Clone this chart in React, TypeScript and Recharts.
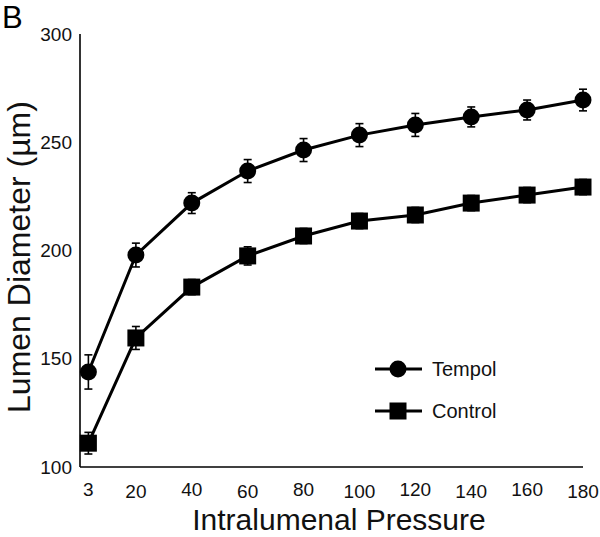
import React from 'react';
import { LineChart, Line, XAxis, YAxis, ErrorBar, Legend, Label } from 'recharts';

// intraluminal pressure steps (mmHg)
const pressures = [3, 20, 40, 60, 80, 100, 120, 140, 160, 180];

// lumen diameter (µm), mean and error
const tempol = [143.9, 197.9, 221.9, 236.7, 246.4, 253.3, 258.0, 261.7, 264.9, 269.5];
const tempolErr = [7.9, 5.5, 4.8, 5.3, 5.3, 5.3, 5.3, 4.6, 4.6, 5.0];
const control = [111.0, 159.6, 183.1, 197.5, 206.7, 213.6, 216.4, 221.9, 225.6, 229.3];
const controlErr = [5.0, 5.3, 3.5, 4.2, 3.5, 3.5, 3.5, 3.5, 3.5, 3.5];

const yTicks = [100, 150, 200, 250, 300];

const FONT = '"Liberation Sans", Arial, Helvetica, sans-serif';

const chartData = pressures.map((p, i) => ({
  pressure: p,
  tempol: tempol[i],
  tempolErr: tempolErr[i],
  control: control[i],
  controlErr: controlErr[i],
}));

// x tick labels are slightly staggered in the original figure
function XTick(props: any) {
  const { x, y, payload, index } = props;
  return (
    <text x={x} y={y} dy={index % 2 ? 23 : 21} textAnchor="middle" fill="#111" fontSize={19} fontFamily={FONT}>
      {payload.value}
    </text>
  );
}

function SquareDot(props: any) {
  const { cx, cy, index } = props;
  if (cx == null || cy == null) return null;
  return <rect key={`sq-${index}`} x={cx - 8.5} y={cy - 8.5} width={17} height={17} fill="#000" />;
}

function LegendBox() {
  return (
    <svg width={140} height={75} style={{ fontFamily: FONT }}>
      <line x1={5} x2={52} y1={19} y2={19} stroke="#000" strokeWidth={3} />
      <circle cx={28} cy={19} r={8.5} fill="#000" />
      <text x={62} y={26} fontSize={20} fill="#111">Tempol</text>
      <line x1={5} x2={52} y1={61} y2={61} stroke="#000" strokeWidth={3} />
      <rect x={19.5} y={52.5} width={17} height={17} fill="#000" />
      <text x={62} y={68} fontSize={20} fill="#111">Control</text>
    </svg>
  );
}

export default function App() {
  return (
    <div style={{ position: 'absolute', left: 0, top: 0, width: 600, height: 537, background: '#fff' }}>
      <svg width={40} height={40} style={{ position: 'absolute', left: 0, top: 0 }}>
        <text x={2} y={28} fontSize={31} fontFamily={FONT} fill="#000">B</text>
      </svg>
      <LineChart
        width={600}
        height={537}
        data={chartData}
        margin={{ top: 34, right: 17, bottom: 0, left: 0 }}
        style={{ fontFamily: FONT }}
      >
        <XAxis
          dataKey="pressure"
          type="number"
          domain={[0, 180]}
          ticks={pressures}
          tickLine={false}
          axisLine={{ stroke: '#000', strokeWidth: 1.6 }}
          tick={<XTick />}
          height={70}
          interval={0}
        >
          <Label
            content={() => (
              <text x={339} y={530} textAnchor="middle" fontSize={30} fill="#111" fontFamily={FONT}>
                Intralumenal Pressure
              </text>
            )}
          />
        </XAxis>
        <YAxis
          type="number"
          domain={[100, 300]}
          ticks={yTicks}
          tickLine={false}
          axisLine={{ stroke: '#000', strokeWidth: 1.6 }}
          tick={{ fill: '#111', fontSize: 19, fontFamily: FONT }}
          width={80}
          interval={0}
        >
          <Label
            content={() => (
              <text
                x={30}
                y={257}
                transform="rotate(-90, 30, 257)"
                textAnchor="middle"
                fontSize={32}
                fill="#111"
                fontFamily={FONT}
              >
                Lumen Diameter (µm)
              </text>
            )}
          />
        </YAxis>
        <Legend
          layout="horizontal"
          verticalAlign="middle"
          align="center"
          content={() => <LegendBox />}
          wrapperStyle={{ left: 370, top: 350, width: 140, height: 75 }}
        />
        <Line
          dataKey="tempol"
          name="Tempol"
          stroke="#000"
          strokeWidth={3}
          dot={{ r: 8.5, fill: '#000', stroke: '#000', strokeWidth: 0 }}
          activeDot={false}
          isAnimationActive={false}
        >
          <ErrorBar dataKey="tempolErr" direction="y" width={4} stroke="#000" strokeWidth={1.6} isAnimationActive={false} />
        </Line>
        <Line
          dataKey="control"
          name="Control"
          stroke="#000"
          strokeWidth={3}
          dot={<SquareDot />}
          activeDot={false}
          isAnimationActive={false}
        >
          <ErrorBar dataKey="controlErr" direction="y" width={4} stroke="#000" strokeWidth={1.6} isAnimationActive={false} />
        </Line>
      </LineChart>
    </div>
  );
}
